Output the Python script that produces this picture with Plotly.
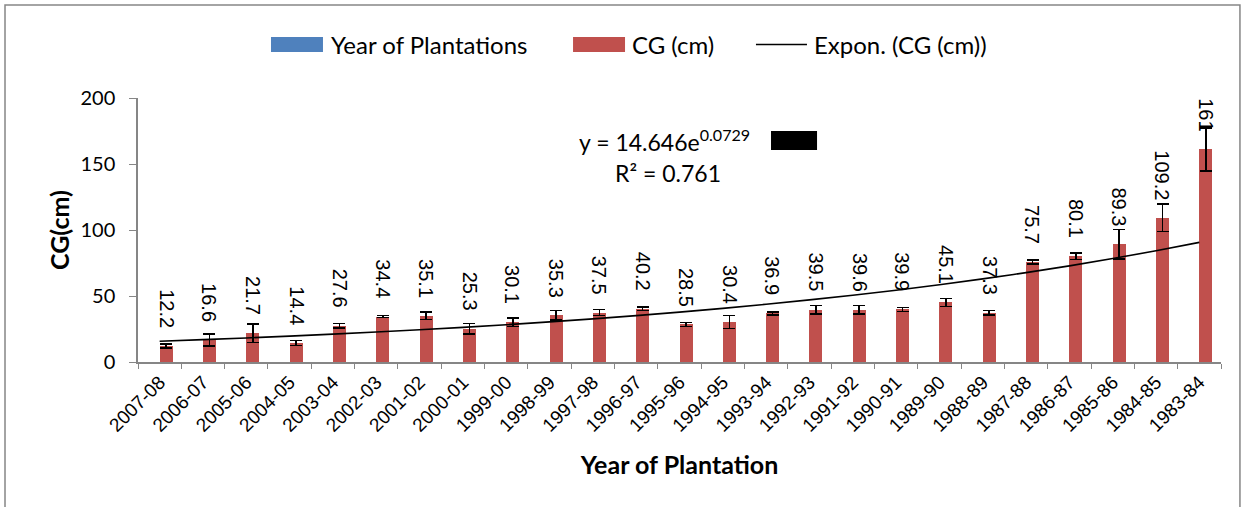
import plotly.graph_objects as go

# Categories (plantation years) and CG values
YEARS = [
    "2007-08", "2006-07", "2005-06", "2004-05", "2003-04", "2002-03", "2001-02",
    "2000-01", "1999-00", "1998-99", "1997-98", "1996-97", "1995-96", "1994-95",
    "1993-94", "1992-93", "1991-92", "1990-91", "1989-90", "1988-89", "1987-88",
    "1986-87", "1985-86", "1984-85", "1983-84",
]
CG = [
    12.2, 16.6, 21.7, 14.4, 27.6, 34.4, 35.1, 25.3, 30.1, 35.3, 37.5, 40.2, 28.5,
    30.4, 36.9, 39.5, 39.6, 39.9, 45.1, 37.3, 75.7, 80.1, 89.3, 109.2, 161,
]
LABELS = [
    "12.2", "16.6", "21.7", "14.4", "27.6", "34.4", "35.1", "25.3", "30.1", "35.3",
    "37.5", "40.2", "28.5", "30.4", "36.9", "39.5", "39.6", "39.9", "45.1", "37.3",
    "75.7", "80.1", "89.3", "109.2", "161",
]
# error bar half-lengths (estimated from the caps)
CG_ERR = [
    1.5, 4.6, 7.0, 1.8, 1.7, 0.7, 3.0, 4.0, 3.1, 3.7, 2.2, 1.3, 1.5,
    4.9, 1.2, 3.2, 3.2, 1.5, 3.1, 1.8, 1.4, 2.5, 11.2, 10.4, 16.5,
]
# Excel exponential trendline as drawn (y = 14.646e^0.0729x)
TREND = [
    15.75, 16.95, 18.23, 19.61, 21.09, 22.69, 24.40, 26.25, 28.23, 30.37, 32.67,
    35.14, 37.79, 40.65, 43.73, 47.03, 50.59, 54.42, 58.53, 62.96, 67.72, 72.84,
    78.35, 84.27, 90.65,
]

RED = "#C0504D"
BLUE = "#4F81BD"
GREY = "#868686"
CALIBRI = "Lato"
ARIAL = "Liberation Sans"

fig = go.Figure()

# CG bars sit in the right half of each slot (the empty "Year" series takes the left)
fig.add_trace(go.Bar(
    x=YEARS, y=CG, offset=0, width=0.3,
    marker=dict(color=RED, line=dict(width=0)),
    error_y=dict(type="data", array=CG_ERR, visible=True,
                 color="black", thickness=1.6, width=6),
    showlegend=False,
))

fig.add_trace(go.Scatter(
    x=YEARS, y=TREND, mode="lines",
    line=dict(color="black", width=1.6, shape="spline"),
    showlegend=False,
))

# rotated data labels above the bars
for yr, v, lab in zip(YEARS, CG, LABELS):
    fig.add_annotation(
        x=yr, y=v, text=lab, textangle=90, showarrow=False,
        xanchor="center", yanchor="bottom", xshift=6.5, yshift=16,
        font=dict(family=ARIAL, size=20, color="black"),
    )

# trendline equation
fig.add_annotation(x=0.4866, y=0.838, xref="paper", yref="paper",
                   xanchor="center", yanchor="middle",
                   text="y = 14.646e<sup>0.0729</sup>", showarrow=False,
                   font=dict(family=CALIBRI, size=23, color="black"))
fig.add_annotation(x=0.489, y=0.716, xref="paper", yref="paper",
                   xanchor="center", yanchor="middle",
                   text="R² = 0.761", showarrow=False,
                   font=dict(family=CALIBRI, size=23, color="black"))
fig.add_shape(type="rect", xref="paper", yref="paper",
              x0=0.5845, x1=0.627, y0=0.803, y1=0.875,
              fillcolor="black", line=dict(width=0))

# legend drawn Excel style (wide swatches)
LEG_Y = 1.2027
fig.add_shape(type="rect", xref="paper", yref="paper", x0=0.1228, x1=0.1708,
              y0=1.174, y1=1.231, fillcolor=BLUE, line=dict(width=0))
fig.add_shape(type="rect", xref="paper", yref="paper", x0=0.4017, x1=0.4497,
              y0=1.174, y1=1.231, fillcolor=RED, line=dict(width=0))
fig.add_shape(type="line", xref="paper", yref="paper", x0=0.5706, x1=0.6177,
              y0=LEG_Y, y1=LEG_Y, line=dict(color="black", width=1.6))
for xp, txt in ((0.1764, "Year of Plantations"), (0.4543, "CG (cm)"),
                (0.6223, "Expon. (CG (cm))")):
    fig.add_annotation(x=xp, y=LEG_Y, xref="paper", yref="paper", text=txt,
                       showarrow=False, xanchor="left", yanchor="middle",
                       font=dict(family=CALIBRI, size=24, color="black"))

# chart area border
fig.add_shape(type="rect", xref="paper", yref="paper",
              x0=-0.1228, x1=1.0175, y0=-0.7, y1=1.352,
              line=dict(color=GREY, width=1.5), fillcolor="rgba(0,0,0,0)")

fig.update_layout(
    width=1249, height=507,
    margin=dict(l=138, r=28, t=98, b=145),
    paper_bgcolor="white", plot_bgcolor="white",
    bargap=0, showlegend=False,
    xaxis=dict(
        type="category", range=[-0.5, 24.5], tickson="boundaries",
        ticks="outside", ticklen=5, tickcolor=GREY, tickwidth=1,
        showline=True, linecolor=GREY, linewidth=1.5, showgrid=False,
        tickangle=-45, tickfont=dict(family=ARIAL, size=19, color="black"),
        title=dict(text="<b>Year of Plantation</b>", standoff=22,
                   font=dict(family=CALIBRI, size=25, color="black")),
    ),
    yaxis=dict(
        range=[0, 200], dtick=50, ticks="outside", ticklen=7, tickcolor=GREY,
        showline=True, linecolor=GREY, linewidth=1.5, showgrid=False,
        zeroline=False, ticklabelstandoff=10,
        tickfont=dict(family=CALIBRI, size=20, color="black"),
        title=dict(text="<b>CG(cm)</b>", standoff=4,
                   font=dict(family=CALIBRI, size=25, color="black")),
    ),
)

# page body has a default 8px margin; drop it so the chart sits at 0,0
fig.write_html("out.html", config={"displayModeBar": False},
               post_script="document.body.style.margin='0';")
